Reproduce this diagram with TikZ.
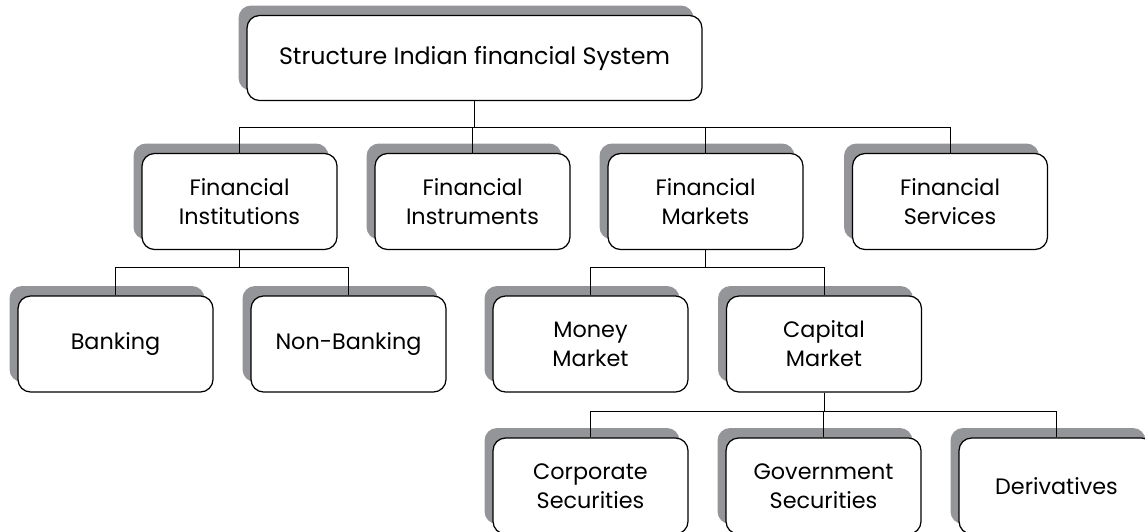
\documentclass[tikz,border=0pt]{standalone}
\usepackage{fontspec}
\setmainfont{Poppins}
\usetikzlibrary{shadows}
\definecolor{shadowgray}{HTML}{939598}
\begin{document}
\begin{tikzpicture}[x=0.02cm,y=-0.02cm,
    box/.style={draw=black,line width=0.7pt,fill=white,rounded corners=0.25cm,
      minimum width=3.9cm,minimum height=1.92cm,align=center,inner sep=2pt,
      font=\fontsize{12.7}{16.5}\selectfont,
      general shadow={fill=shadowgray,shadow xshift=-0.17cm,shadow yshift=0.2cm}},
    link/.style={draw=black,line width=0.5pt}]
    \clip (0,0) rectangle (1145,531);
    % boxes
    \node[box,minimum width=9.1cm,minimum height=1.7cm,font=\fontsize{13.5}{16.5}\selectfont] (fs) at (474.5,58) {Structure Indian financial System};
    \node[box] (inst) at (239.5,201.5) {Financial\\Institutions};
    \node[box] (instr) at (472.5,201.5) {Financial\\Instruments};
    \node[box] (mkt) at (705.5,201.5) {Financial\\Markets};
    \node[box] (serv) at (950,201.5) {Financial\\Services};
    \node[box] (bank) at (115.5,344) {Banking};
    \node[box] (nonbank) at (348.5,344) {Non-Banking};
    \node[box] (money) at (590.5,344) {Money\\Market};
    \node[box] (capital) at (824,344) {Capital\\Market};
    \node[box] (corp) at (590.5,486) {Corporate\\Securities};
    \node[box] (govt) at (823.5,486) {Government\\Securities};
    \node[box] (deriv) at (1056.5,486) {Derivatives};
    % bus lines
    \coordinate (bus1) at (0,127);
    \coordinate (bus2) at (0,267);
    \coordinate (bus3) at (0,411);
    \foreach \c in {inst,instr,mkt,serv}
        \draw[link] (fs.south) -- (fs.south |- bus1) -| (\c.north);
    \foreach \c in {bank,nonbank}
        \draw[link] (inst.south) -- (inst.south |- bus2) -| (\c.north);
    \foreach \c in {money,capital}
        \draw[link] (mkt.south) -- (mkt.south |- bus2) -| (\c.north);
    \foreach \c in {corp,govt,deriv}
        \draw[link] (capital.south) -- (capital.south |- bus3) -| (\c.north);
\end{tikzpicture}
\end{document}
